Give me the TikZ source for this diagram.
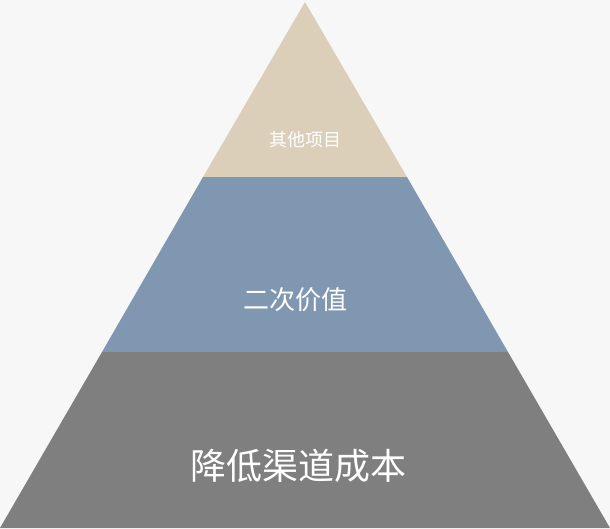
\documentclass[tikz,border=0pt]{standalone}
\usepackage{fontspec}
\newfontfamily\cjk{Noto Sans CJK SC}
\definecolor{bg}{HTML}{F7F7F7}
\definecolor{ctop}{HTML}{DCCFBA}
\definecolor{cmid}{HTML}{7F97B0}
\definecolor{cbot}{HTML}{7F7F7F}
\begin{document}
\begin{tikzpicture}[x=1pt,y=-1pt,lab/.style={text=white,font=\cjk}]
\fill[bg] (0,0) rectangle (610,528);
\useasboundingbox (0,0) rectangle (610,528);
\fill[ctop] (305,2) -- (407,177) -- (203,177) -- cycle;
\fill[cmid] (203,177) -- (407,177) -- (508,352) -- (102,352) -- cycle;
\fill[cbot] (102,352) -- (508,352) -- (610,528) -- (0,528) -- cycle;
\node[lab,font=\cjk\fontsize{18}{20}\selectfont] (t) at (305,140) {其他项目};
\node[lab,font=\cjk\fontsize{26}{28}\selectfont] (m) at (295,300) {二次价值};
\node[lab,font=\cjk\fontsize{36}{38}\selectfont] (b) at (298,466) {降低渠道成本};
\end{tikzpicture}
\end{document}
